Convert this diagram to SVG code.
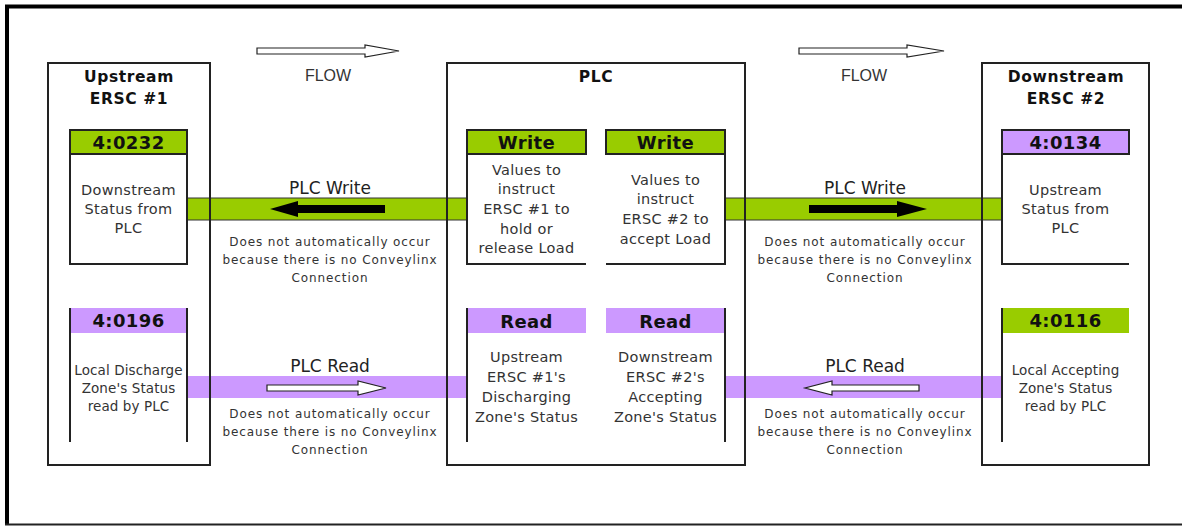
<svg xmlns="http://www.w3.org/2000/svg" width="1182" height="526" viewBox="0 0 1182 526">
<style>
  .ln{stroke:#222;stroke-width:2;fill:none;}
  .green{fill:#99CC00;}
  .purple{fill:#CC99FF;}
  .title{font-family:"DejaVu Sans",Verdana,sans-serif;font-weight:bold;font-size:15.5px;letter-spacing:0.6px;fill:#111;text-anchor:middle;}
  .hdr{font-family:"DejaVu Sans",Verdana,sans-serif;font-weight:bold;font-size:18px;letter-spacing:0.4px;fill:#111;text-anchor:middle;}
  .body{font-family:"DejaVu Sans",Verdana,sans-serif;font-size:14.5px;letter-spacing:0.3px;fill:#333;text-anchor:middle;}
  .small{font-family:"DejaVu Sans",Verdana,sans-serif;font-size:13.5px;letter-spacing:0.1px;fill:#333;text-anchor:middle;}
  .lbl{font-family:"DejaVu Sans",Verdana,sans-serif;font-size:17px;fill:#222;text-anchor:middle;}
  .note{font-family:"DejaVu Sans",Verdana,sans-serif;font-size:12px;letter-spacing:0.9px;fill:#333;text-anchor:middle;}
  .flow{font-family:"Liberation Sans",Arial,sans-serif;font-size:16px;fill:#333;text-anchor:middle;}
  .solid{fill:#000;}
  .hollow{fill:#fff;stroke:#222;stroke-width:1.2;}
</style>
<rect width="1182" height="526" fill="#fff"/>
<g id="frame">
  <line x1="5" y1="6.5" x2="1182" y2="6.5" stroke="#000" stroke-width="4"/>
  <line x1="7" y1="5" x2="7" y2="525" stroke="#000" stroke-width="4"/>
  <line x1="5" y1="524.5" x2="1182" y2="524.5" stroke="#222" stroke-width="2"/>
</g>

<g id="connectors">
  <rect class="green" x="187" y="198" width="280" height="22"/>
  <line x1="187" y1="198" x2="467" y2="198" stroke="#333" stroke-width="1"/>
  <line x1="187" y1="220" x2="467" y2="220" stroke="#333" stroke-width="1"/>
  <rect class="green" x="725" y="198" width="278" height="22"/>
  <line x1="725" y1="198" x2="1003" y2="198" stroke="#333" stroke-width="1"/>
  <line x1="725" y1="220" x2="1003" y2="220" stroke="#333" stroke-width="1"/>
  <rect class="purple" x="187" y="376" width="280" height="22"/>
  <rect class="purple" x="725" y="376" width="278" height="22"/>
  <polygon class="solid" points="385,205 298,205 298,201 270,209 298,217 298,213 385,213"/>
  <polygon class="solid" points="809,205 897,205 897,201 927,209 897,217 897,213 809,213"/>
  <polygon class="hollow" points="267,385 358,385 358,381 386,388 358,395 358,391 267,391"/>
  <polygon class="hollow" points="919,385 832,385 832,381 805,388 832,395 832,391 919,391"/>
  <polygon class="hollow" points="257,48 365,48 365,45 399,51 365,57 365,54 257,54"/>
  <polygon class="hollow" points="799,48 907,48 907,45 944,51 907,57 907,54 799,54"/>
  <text class="flow" x="328" y="81">FLOW</text>
  <text class="flow" x="864" y="81">FLOW</text>
  <text class="lbl" x="330" y="194">PLC Write</text>
  <text class="lbl" x="865" y="194">PLC Write</text>
  <text class="lbl" x="330" y="372">PLC Read</text>
  <text class="lbl" x="865" y="372">PLC Read</text>
  <text class="note" x="330" y="246">Does not automatically occur</text>
  <text class="note" x="330" y="264">because there is no Conveylinx</text>
  <text class="note" x="330" y="282">Connection</text>
  <text class="note" x="865" y="246">Does not automatically occur</text>
  <text class="note" x="865" y="264">because there is no Conveylinx</text>
  <text class="note" x="865" y="282">Connection</text>
  <text class="note" x="330" y="418">Does not automatically occur</text>
  <text class="note" x="330" y="436">because there is no Conveylinx</text>
  <text class="note" x="330" y="454">Connection</text>
  <text class="note" x="865" y="418">Does not automatically occur</text>
  <text class="note" x="865" y="436">because there is no Conveylinx</text>
  <text class="note" x="865" y="454">Connection</text>
</g>

<g id="upstream">
  <rect x="48" y="63" width="162" height="402" fill="none" stroke="#222" stroke-width="2"/>
  <text class="title" x="129" y="82">Upstream</text>
  <text class="title" x="129" y="104">ERSC #1</text>
  <g id="reg-0232">
    <rect class="green" x="70" y="130" width="117" height="24" stroke="#222" stroke-width="2"/>
    <text class="hdr" x="128.5" y="149">4:0232</text>
    <polyline class="ln" points="70,154 70,264 187,264 187,154"/>
    <text class="body" x="128.5" y="195">Downstream</text>
    <text class="body" x="128.5" y="214">Status from</text>
    <text class="body" x="128.5" y="233">PLC</text>
  </g>
  <g id="reg-0196">
    <rect class="purple" x="70" y="308" width="117" height="25"/>
    <line class="ln" x1="70" y1="308" x2="70" y2="442"/>
    <line class="ln" x1="187" y1="308" x2="187" y2="442"/>
    <text class="hdr" x="128.5" y="327">4:0196</text>
    <text class="small" x="128.5" y="375">Local Discharge</text>
    <text class="small" x="128.5" y="393">Zone's Status</text>
    <text class="small" x="128.5" y="411">read by  PLC</text>
  </g>
</g>

<g id="plc">
  <rect x="447" y="63" width="298" height="402" fill="none" stroke="#222" stroke-width="2"/>
  <text class="title" x="596" y="82">PLC</text>
  <g id="write1">
    <rect class="green" x="467" y="130" width="119" height="24" stroke="#222" stroke-width="2"/>
    <text class="hdr" x="526.5" y="149">Write</text>
    <polyline class="ln" points="467,154 467,264 586,264"/>
    <text class="body" x="526.5" y="175">Values to</text>
    <text class="body" x="526.5" y="194">instruct</text>
    <text class="body" x="526.5" y="214">ERSC #1 to</text>
    <text class="body" x="526.5" y="234">hold or</text>
    <text class="body" x="526.5" y="253">release Load</text>
  </g>
  <g id="write2">
    <rect class="green" x="606" y="130" width="119" height="24" stroke="#222" stroke-width="2"/>
    <text class="hdr" x="665.5" y="149">Write</text>
    <polyline class="ln" points="606,264 725,264 725,154"/>
    <text class="body" x="665.5" y="185">Values to</text>
    <text class="body" x="665.5" y="204">instruct</text>
    <text class="body" x="665.5" y="224">ERSC #2 to</text>
    <text class="body" x="665.5" y="244">accept Load</text>
  </g>
  <g id="read1">
    <rect class="purple" x="467" y="308" width="119" height="25"/>
    <line class="ln" x1="467" y1="308" x2="467" y2="442"/>
    <text class="hdr" x="526.5" y="328">Read</text>
    <text class="body" x="526.5" y="362">Upstream</text>
    <text class="body" x="526.5" y="382">ERSC #1's</text>
    <text class="body" x="526.5" y="402">Discharging</text>
    <text class="body" x="526.5" y="422">Zone's Status</text>
  </g>
  <g id="read2">
    <rect class="purple" x="606" y="308" width="119" height="25"/>
    <line class="ln" x1="725" y1="308" x2="725" y2="442"/>
    <text class="hdr" x="665.5" y="328">Read</text>
    <text class="body" x="665.5" y="362">Downstream</text>
    <text class="body" x="665.5" y="382">ERSC #2's</text>
    <text class="body" x="665.5" y="402">Accepting</text>
    <text class="body" x="665.5" y="422">Zone's Status</text>
  </g>
</g>

<g id="downstream">
  <rect x="982" y="63" width="167" height="402" fill="none" stroke="#222" stroke-width="2"/>
  <text class="title" x="1066" y="82">Downstream</text>
  <text class="title" x="1066" y="104">ERSC #2</text>
  <g id="reg-0134">
    <rect class="purple" x="1002" y="130" width="127" height="24" stroke="#222" stroke-width="2"/>
    <text class="hdr" x="1065.5" y="149">4:0134</text>
    <polyline class="ln" points="1002,154 1002,264 1129,264"/>
    <text class="body" x="1065.5" y="195">Upstream</text>
    <text class="body" x="1065.5" y="214">Status from</text>
    <text class="body" x="1065.5" y="233">PLC</text>
  </g>
  <g id="reg-0116">
    <rect class="green" x="1002" y="308" width="127" height="25"/>
    <line class="ln" x1="1002" y1="308" x2="1002" y2="442"/>
    <text class="hdr" x="1065.5" y="327">4:0116</text>
    <text class="small" x="1065.5" y="375">Local Accepting</text>
    <text class="small" x="1065.5" y="393">Zone's Status</text>
    <text class="small" x="1065.5" y="411">read by PLC</text>
  </g>
</g>
</svg>
